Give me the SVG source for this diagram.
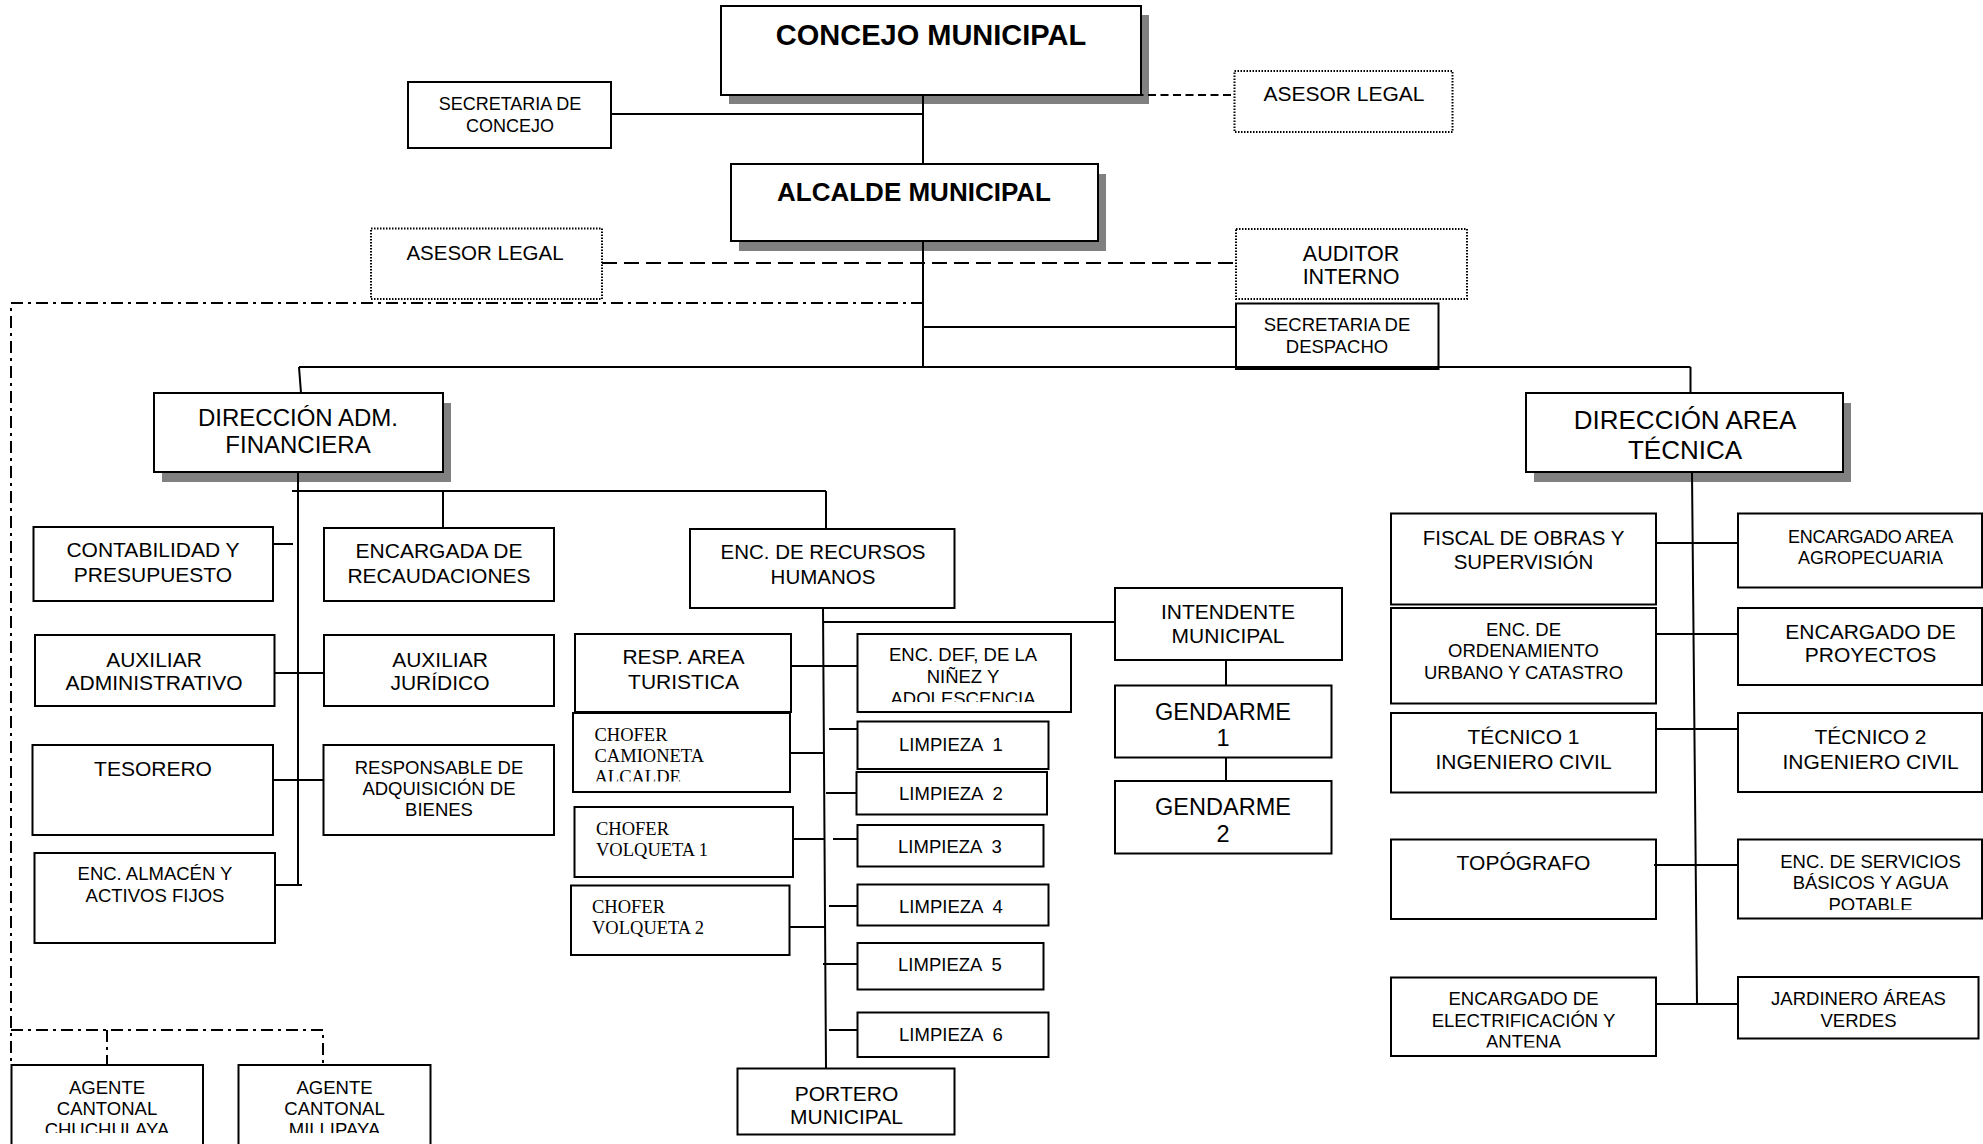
<svg xmlns="http://www.w3.org/2000/svg" width="1983" height="1144" viewBox="0 0 1983 1144">
<style>
.bg{fill:#fff}
.box{fill:#fff;stroke:#000;stroke-width:2}
.dot{fill:#fff;stroke:#000;stroke-width:2;stroke-dasharray:1.5 1.5}
.sh{fill:#808080}
.t{font-family:"Liberation Sans",Arial,sans-serif;text-anchor:middle;fill:#000}
.b{font-weight:bold}
.s{font-family:"Liberation Serif","Times New Roman",serif;fill:#000;font-size:18.5px}
.ln{stroke:#000;stroke-width:2;fill:none}
.sd{stroke:#000;stroke-width:2;fill:none;stroke-dasharray:8 4.5}
.ld{stroke:#000;stroke-width:2;fill:none;stroke-dasharray:15 7}
.dd{stroke:#000;stroke-width:2;fill:none;stroke-dasharray:12 5 3 5}
.f18{font-size:18.5px}
.f21{font-size:21px}
</style>
<defs>
<clipPath id="cDef"><rect x="857" y="634" width="215" height="68"/></clipPath>
<clipPath id="cCam"><rect x="573" y="713" width="218" height="68.5"/></clipPath>
<clipPath id="cSer"><rect x="1738" y="839" width="245" height="71"/></clipPath>
<clipPath id="cEle"><rect x="1391" y="977" width="266" height="70.5"/></clipPath>
<clipPath id="cAg"><rect x="0" y="1065" width="440" height="68"/></clipPath>
</defs>
<rect class="bg" x="0" y="0" width="1983" height="1144"/>

<g id="concejo">
<rect class="sh" x="729" y="15" width="420" height="89"/>
<rect class="box" x="721" y="6" width="420" height="89"/>
<text class="t b" x="931" y="45" font-size="29">CONCEJO MUNICIPAL</text>
</g>
<g id="secretaria-concejo">
<rect class="box" x="408" y="82" width="203" height="66"/>
<text class="t" x="510" y="110" font-size="18">SECRETARIA DE</text>
<text class="t" x="510" y="132" font-size="18">CONCEJO</text>
</g>
<g id="asesor-legal-1">
<rect class="dot" x="1234.5" y="71" width="218" height="61"/>
<text class="t" x="1344" y="100.5" font-size="21">ASESOR LEGAL</text>
</g>
<g id="alcalde">
<rect class="sh" x="739" y="174" width="367" height="77"/>
<rect class="box" x="731" y="164" width="367" height="77"/>
<text class="t b" x="914" y="201" font-size="26">ALCALDE MUNICIPAL</text>
</g>
<g id="asesor-legal-2">
<rect class="dot" x="371" y="228.5" width="231" height="70.5"/>
<text class="t" x="485" y="259.5" font-size="20.5">ASESOR LEGAL</text>
</g>
<g id="auditor">
<rect class="dot" x="1236" y="229" width="231" height="70"/>
<text class="t" x="1351" y="260.5" font-size="21.5">AUDITOR</text>
<text class="t" x="1351" y="284" font-size="21.5">INTERNO</text>
</g>
<g id="secretaria-despacho">
<rect class="box" x="1236" y="303.5" width="202.5" height="65.5"/>
<text class="t f18" x="1337" y="331">SECRETARIA DE</text>
<text class="t f18" x="1337" y="352.5">DESPACHO</text>
</g>
<g id="dir-adm">
<rect class="sh" x="162" y="403" width="289" height="79"/>
<rect class="box" x="154" y="393" width="289" height="79"/>
<text class="t" x="298" y="426" font-size="24">DIRECCIÓN ADM.</text>
<text class="t" x="298" y="453" font-size="24">FINANCIERA</text>
</g>
<g id="dir-tec">
<rect class="sh" x="1534" y="403" width="317" height="79"/>
<rect class="box" x="1526" y="393" width="317" height="79"/>
<text class="t" x="1685" y="428.5" font-size="26">DIRECCIÓN AREA</text>
<text class="t" x="1685" y="459" font-size="26">TÉCNICA</text>
</g>

<g id="contabilidad">
<rect class="box" x="33.5" y="527" width="239.5" height="74"/>
<text class="t f21" x="153" y="556.5">CONTABILIDAD Y</text>
<text class="t f21" x="153" y="581.5">PRESUPUESTO</text>
</g>
<g id="recaudaciones">
<rect class="box" x="324" y="528" width="230" height="73"/>
<text class="t f21" x="439" y="558">ENCARGADA DE</text>
<text class="t f21" x="439" y="583">RECAUDACIONES</text>
</g>
<g id="aux-adm">
<rect class="box" x="35" y="635" width="239.5" height="71"/>
<text class="t f21" x="154" y="666.5">AUXILIAR</text>
<text class="t f21" x="154" y="690">ADMINISTRATIVO</text>
</g>
<g id="aux-jur">
<rect class="box" x="324" y="635" width="230" height="71"/>
<text class="t f21" x="440" y="666.5">AUXILIAR</text>
<text class="t f21" x="440" y="690">JURÍDICO</text>
</g>
<g id="tesorero">
<rect class="box" x="32.5" y="745" width="240.5" height="90"/>
<text class="t f21" x="153" y="776">TESORERO</text>
</g>
<g id="adquisicion">
<rect class="box" x="323.5" y="745" width="230.5" height="90"/>
<text class="t f18" x="439" y="774">RESPONSABLE DE</text>
<text class="t f18" x="439" y="795">ADQUISICIÓN DE</text>
<text class="t f18" x="439" y="815.5">BIENES</text>
</g>
<g id="almacen">
<rect class="box" x="34.5" y="853" width="240.5" height="90"/>
<text class="t f18" x="155" y="880">ENC. ALMACÉN Y</text>
<text class="t f18" x="155" y="901.5">ACTIVOS FIJOS</text>
</g>
<g id="agente-chuchulaya">
<rect class="box" x="11.5" y="1065" width="191.5" height="90"/>
<g clip-path="url(#cAg)">
<text class="t f18" x="107" y="1093.5">AGENTE</text>
<text class="t f18" x="107" y="1115">CANTONAL</text>
<text class="t f18" x="107" y="1136">CHUCHULAYA</text>
</g>
</g>
<g id="agente-millipaya">
<rect class="box" x="238.5" y="1065" width="192" height="90"/>
<g clip-path="url(#cAg)">
<text class="t f18" x="334.5" y="1093.5">AGENTE</text>
<text class="t f18" x="334.5" y="1115">CANTONAL</text>
<text class="t f18" x="334.5" y="1136">MILLIPAYA</text>
</g>
</g>

<g id="rrhh">
<rect class="box" x="690" y="529" width="264.5" height="79"/>
<text class="t" x="823" y="559" font-size="20.5">ENC. DE RECURSOS</text>
<text class="t" x="823" y="583.5" font-size="20.5">HUMANOS</text>
</g>
<g id="turistica">
<rect class="box" x="575" y="634" width="216" height="78"/>
<text class="t f21" x="683.5" y="663.5">RESP. AREA</text>
<text class="t f21" x="683.5" y="688.5">TURISTICA</text>
</g>
<g id="defensoria">
<rect class="box" x="857.5" y="634" width="213.5" height="78"/>
<g clip-path="url(#cDef)">
<text class="t f18" x="963" y="661">ENC. DEF, DE LA</text>
<text class="t f18" x="963" y="683">NIÑEZ Y</text>
<text class="t f18" x="963" y="705">ADOLESCENCIA</text>
</g>
</g>
<g id="chofer-camioneta">
<rect class="box" x="573" y="713" width="217" height="79"/>
<g clip-path="url(#cCam)">
<text class="s" x="594.5" y="740.5">CHOFER</text>
<text class="s" x="594.5" y="761.5">CAMIONETA</text>
<text class="s" x="594.5" y="783">ALCALDE</text>
</g>
</g>
<g id="limpieza1">
<rect class="box" x="857.5" y="721.5" width="191" height="47.5"/>
<text class="t f18" x="951" y="751" xml:space="preserve">LIMPIEZA  1</text>
</g>
<g id="limpieza2">
<rect class="box" x="856.5" y="772" width="190.5" height="42.5"/>
<text class="t f18" x="951" y="799.5" xml:space="preserve">LIMPIEZA  2</text>
</g>
<g id="chofer-volqueta1">
<rect class="box" x="574.5" y="807" width="218.5" height="70"/>
<text class="s" x="596" y="834.5">CHOFER</text>
<text class="s" x="596" y="855.5">VOLQUETA 1</text>
</g>
<g id="limpieza3">
<rect class="box" x="857.5" y="825" width="186" height="41.5"/>
<text class="t f18" x="950" y="852.5" xml:space="preserve">LIMPIEZA  3</text>
</g>
<g id="chofer-volqueta2">
<rect class="box" x="571" y="885.5" width="218.5" height="69.5"/>
<text class="s" x="592" y="912.5">CHOFER</text>
<text class="s" x="592" y="934">VOLQUETA 2</text>
</g>
<g id="limpieza4">
<rect class="box" x="857.5" y="884.5" width="191" height="41"/>
<text class="t f18" x="951" y="912.5" xml:space="preserve">LIMPIEZA  4</text>
</g>
<g id="limpieza5">
<rect class="box" x="857.5" y="943" width="186" height="46.5"/>
<text class="t f18" x="950" y="971" xml:space="preserve">LIMPIEZA  5</text>
</g>
<g id="limpieza6">
<rect class="box" x="857.5" y="1012.5" width="191" height="44.5"/>
<text class="t f18" x="951" y="1041" xml:space="preserve">LIMPIEZA  6</text>
</g>
<g id="portero">
<rect class="box" x="737.5" y="1068.5" width="217" height="66"/>
<text class="t f21" x="846.5" y="1100.5">PORTERO</text>
<text class="t f21" x="846.5" y="1123.5">MUNICIPAL</text>
</g>
<g id="intendente">
<rect class="box" x="1115" y="588" width="227" height="72"/>
<text class="t f21" x="1228" y="618.5">INTENDENTE</text>
<text class="t f21" x="1228" y="643">MUNICIPAL</text>
</g>
<g id="gendarme1">
<rect class="box" x="1115" y="685.5" width="216.5" height="72"/>
<text class="t" x="1223" y="719.5" font-size="23.5">GENDARME</text>
<text class="t" x="1223" y="746" font-size="23.5">1</text>
</g>
<g id="gendarme2">
<rect class="box" x="1115" y="781" width="216.5" height="72.5"/>
<text class="t" x="1223" y="814.5" font-size="23.5">GENDARME</text>
<text class="t" x="1223" y="842" font-size="23.5">2</text>
</g>

<g id="fiscal">
<rect class="box" x="1391" y="513.5" width="265" height="91"/>
<text class="t" x="1523.5" y="544.5" font-size="20.5">FISCAL DE OBRAS Y</text>
<text class="t" x="1523.5" y="568.5" font-size="20.5">SUPERVISIÓN</text>
</g>
<g id="ordenamiento">
<rect class="box" x="1391" y="608" width="265" height="95.5"/>
<text class="t f18" x="1523.5" y="636">ENC. DE</text>
<text class="t f18" x="1523.5" y="657">ORDENAMIENTO</text>
<text class="t f18" x="1523.5" y="678.5">URBANO Y CATASTRO</text>
</g>
<g id="tecnico1">
<rect class="box" x="1391" y="713" width="265" height="79.5"/>
<text class="t f21" x="1523.5" y="743.5">TÉCNICO 1</text>
<text class="t f21" x="1523.5" y="768.5">INGENIERO CIVIL</text>
</g>
<g id="topografo">
<rect class="box" x="1391" y="839.5" width="265" height="79.5"/>
<text class="t f21" x="1523.5" y="870">TOPÓGRAFO</text>
</g>
<g id="electrificacion">
<rect class="box" x="1391" y="977.5" width="265" height="78.5"/>
<g clip-path="url(#cEle)">
<text class="t f18" x="1523.5" y="1005">ENCARGADO DE</text>
<text class="t f18" x="1523.5" y="1026.5">ELECTRIFICACIÓN Y</text>
<text class="t f18" x="1523.5" y="1048">ANTENA</text>
</g>
</g>
<g id="agropecuaria">
<rect class="box" x="1738" y="513.5" width="244" height="74"/>
<text class="t" x="1870.5" y="542.5" font-size="18" letter-spacing="-0.3">ENCARGADO AREA</text>
<text class="t" x="1870.5" y="563.5" font-size="18">AGROPECUARIA</text>
</g>
<g id="proyectos">
<rect class="box" x="1738" y="608" width="244" height="77"/>
<text class="t f21" x="1870.5" y="638.5">ENCARGADO DE</text>
<text class="t f21" x="1870.5" y="661.5">PROYECTOS</text>
</g>
<g id="tecnico2">
<rect class="box" x="1738" y="713" width="244" height="79"/>
<text class="t f21" x="1870.5" y="743.5">TÉCNICO 2</text>
<text class="t f21" x="1870.5" y="768.5">INGENIERO CIVIL</text>
</g>
<g id="servicios">
<rect class="box" x="1738" y="839.5" width="244" height="79"/>
<g clip-path="url(#cSer)">
<text class="t f18" x="1870.5" y="867.5">ENC. DE SERVICIOS</text>
<text class="t f18" x="1870.5" y="888.5">BÁSICOS Y AGUA</text>
<text class="t f18" x="1870.5" y="910.5">POTABLE</text>
</g>
</g>
<g id="jardinero">
<rect class="box" x="1738" y="977" width="240.5" height="61.5"/>
<text class="t f18" x="1858.5" y="1005">JARDINERO ÁREAS</text>
<text class="t f18" x="1858.5" y="1026.5">VERDES</text>
</g>

<g id="connectors">
<path class="ln" d="M923 95V164M923 241V367M611 114H923M923 327H1236M299 367H1690.5M299 367L301 393M1690.5 367V393"/>
<path class="sd" d="M923 95H1234.5"/>
<path class="ld" d="M602 263H1236"/>
<path class="dd" d="M923 303H11V1065M11 1030H323V1065M107 1030V1065"/>
<path class="ln" d="M298 472V885M274 885H302M292 491H826M443 491V528M826 491V529M273 544H293M274.5 673H324M273 780H323.5"/>
<path class="ln" d="M823 608L826 1068.5M823 622H1115M791 666H857.5M829 729H857.5M790 753H823.5M826 793H856.5M793 839H825M833 839H857.5M789.5 927H825.5M829 906H857.5M823 964H857.5M829 1030H857.5M1226 660V685.5M1226 757.5V781"/>
<path class="ln" d="M1692 472L1697 1005M1656 543H1738M1656 634H1738M1656 729H1738M1654 865H1738M1656 1004H1738"/>
</g>
</svg>
